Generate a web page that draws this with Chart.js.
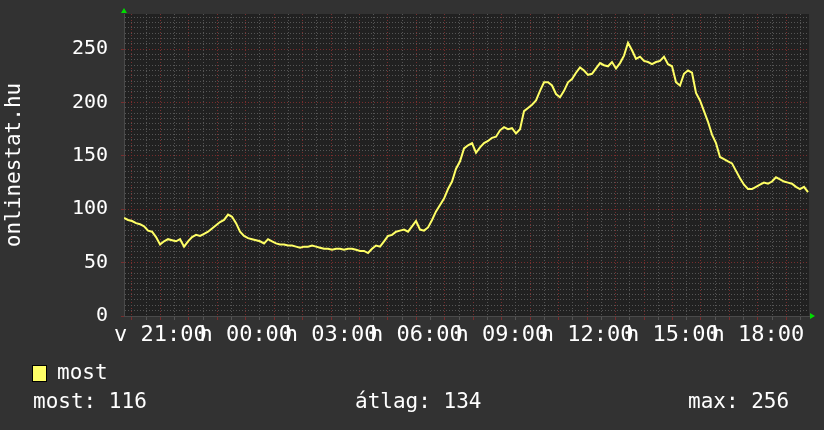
<!DOCTYPE html>
<html>
<head>
<meta charset="utf-8">
<script src="https://cdn.jsdelivr.net/npm/chart.js@4/dist/chart.umd.min.js"></script>
<style>
  html, body { margin: 0; padding: 0; background: #323232; }
  canvas { display: block; }
</style>
</head>
<body>
<canvas id="chart" width="824" height="430"></canvas>
<script>
// hours relative to 00:00, one sample roughly every 8.4 minutes
const startHour = -4.278;
const stepHour = 0.1406;
const online = [
  92, 90, 89, 87, 86, 84, 80, 79, 74, 67, 70, 72, 71, 70, 72, 65, 70, 74, 76, 75,
  77, 79, 82, 85, 88, 90, 95, 93, 87, 79, 75, 73, 72, 71, 70, 68, 72, 70, 68, 67,
  67, 66, 66, 65, 64, 65, 65, 66, 65, 64, 63, 63, 62, 63, 63, 62, 63, 63, 62, 61,
  61, 59, 63, 66, 65, 70, 75, 76, 79, 80, 81, 79, 84, 89, 81, 80, 83, 90, 98, 104,
  110, 119, 126, 138, 145, 157, 160, 162, 153, 158, 162, 164, 167, 168, 174, 177, 175, 176, 171, 175,
  192, 195, 198, 202, 211, 219, 219, 216, 208, 205, 211, 219, 222, 228, 233, 230, 226, 227, 232, 237,
  235, 234, 238, 232, 237, 244, 256, 249, 241, 243, 239, 238, 236, 238, 239, 243, 236, 234, 219, 216,
  227, 230, 228, 209, 202, 192, 182, 170, 162, 149, 147, 145, 143, 136, 129, 123, 119, 119, 121, 123,
  125, 124, 126, 130, 128, 126, 125, 124, 121, 119, 121, 116
];

const xMin = -4.28;
const xMax = 19.8;
const labelHours = [-3, 0, 3, 6, 9, 12, 15, 18];
const labelTexts = ['v 21:00', 'h 00:00', 'h 03:00', 'h 06:00', 'h 09:00', 'h 12:00', 'h 15:00', 'h 18:00'];
const yMax = 283;

const seriesName = 'most';
const statTexts = ['most: 116', 'átlag: 134', 'max: 256'];

const RED = 'rgb(120, 45, 45)';
const GRAY = 'rgb(85, 85, 85)';
const FONT = 'DejaVu Sans Mono';

const points = online.map((v, i) => ({ x: startHour + i * stepHour, y: v }));

const gridHours = [];
for (let h = -4; h <= 19.5; h += 0.5) gridHours.push(h);

const isWhole = v => Math.abs(v - Math.round(v)) < 1e-6;

const frame = {
  id: 'frame',
  beforeDraw(chart) {
    const { ctx, chartArea: a } = chart;
    ctx.save();
    ctx.fillStyle = '#323232';
    ctx.fillRect(0, 0, chart.width, chart.height);
    ctx.fillStyle = '#212121';
    ctx.fillRect(a.left, a.top, a.right - a.left, a.bottom - a.top);
    ctx.restore();
  },
  afterDraw(chart) {
    const { ctx, chartArea: a } = chart;
    ctx.save();
    // arrows at the ends of the axes
    ctx.fillStyle = '#00dd00';
    ctx.beginPath();
    ctx.moveTo(a.left - 3, a.top - 1);
    ctx.lineTo(a.left + 3, a.top - 1);
    ctx.lineTo(a.left, a.top - 6);
    ctx.closePath();
    ctx.fill();
    ctx.beginPath();
    ctx.moveTo(a.right + 1, a.bottom - 3);
    ctx.lineTo(a.right + 1, a.bottom + 3);
    ctx.lineTo(a.right + 6, a.bottom);
    ctx.closePath();
    ctx.fill();

    // legend
    ctx.fillStyle = '#ffff66';
    ctx.fillRect(33, 366, 13, 15);
    ctx.strokeStyle = '#000';
    ctx.lineWidth = 1;
    ctx.strokeRect(32.5, 365.5, 14, 16);
    ctx.fillStyle = '#ffffff';
    ctx.font = '21px "' + FONT + '"';
    ctx.textBaseline = 'middle';
    ctx.textAlign = 'left';
    ctx.fillText(seriesName, 57, 374);
    ctx.fillText(statTexts[0], 33, 403);
    ctx.fillText(statTexts[1], 355, 403);
    ctx.fillText(statTexts[2], 688, 403);
    ctx.restore();
  }
};

new Chart(document.getElementById('chart').getContext('2d'), {
  type: 'line',
  data: {
    datasets: [{
      label: seriesName,
      data: points,
      borderColor: '#ffff66',
      borderWidth: 2,
      pointRadius: 0,
      tension: 0,
      fill: false
    }]
  },
  options: {
    responsive: false,
    animation: false,
    layout: { padding: { top: 14, right: 15, bottom: 74, left: 0 } },
    plugins: { legend: { display: false }, tooltip: { enabled: false } },
    scales: {
      x: {
        type: 'linear',
        min: xMin,
        max: xMax,
        afterBuildTicks: s => { s.ticks = gridHours.map(v => ({ value: v })); },
        afterFit: s => { s.height = 40; s.paddingLeft = 0; s.paddingRight = 0; },
        grid: {
          color: c => isWhole(c.tick.value) ? RED : GRAY,
          tickColor: c => isWhole(c.tick.value) ? RED : GRAY,
          tickLength: 4,
          lineWidth: 1
        },
        border: { display: true, color: '#4a4a4a', dash: [1, 2] },
        ticks: {
          autoSkip: false,
          maxRotation: 0,
          minRotation: 0,
          padding: 2,
          color: '#ffffff',
          font: { family: FONT, size: 22 },
          callback: v => {
            const k = labelHours.findIndex(h => Math.abs(h - v) < 1e-6);
            return k >= 0 ? labelTexts[k] : '';
          }
        }
      },
      y: {
        min: 0,
        max: yMax,
        afterBuildTicks: s => {
          const t = [];
          for (let v = 0; v <= 280; v += 5) t.push({ value: v });
          s.ticks = t;
        },
        afterFit: s => { s.width = 124; s.paddingTop = 0; s.paddingBottom = 0; },
        grid: {
          color: c => (c.tick.value % 50 === 0 && c.tick.value > 0) ? RED : GRAY,
          tickColor: c => c.tick.value % 50 === 0 ? RED : 'transparent',
          tickLength: 3,
          lineWidth: 1
        },
        border: { display: true, color: '#4a4a4a', dash: [1, 2] },
        title: {
          display: true,
          text: 'onlinestat.hu',
          color: '#ffffff',
          font: { family: FONT, size: 21 },
          padding: { top: 2, bottom: 0 }
        },
        ticks: {
          autoSkip: false,
          padding: 13,
          color: '#ffffff',
          font: { family: FONT, size: 20 },
          callback: v => v % 50 === 0 ? String(v) : ''
        }
      }
    }
  },
  plugins: [frame]
});
</script>
</body>
</html>
